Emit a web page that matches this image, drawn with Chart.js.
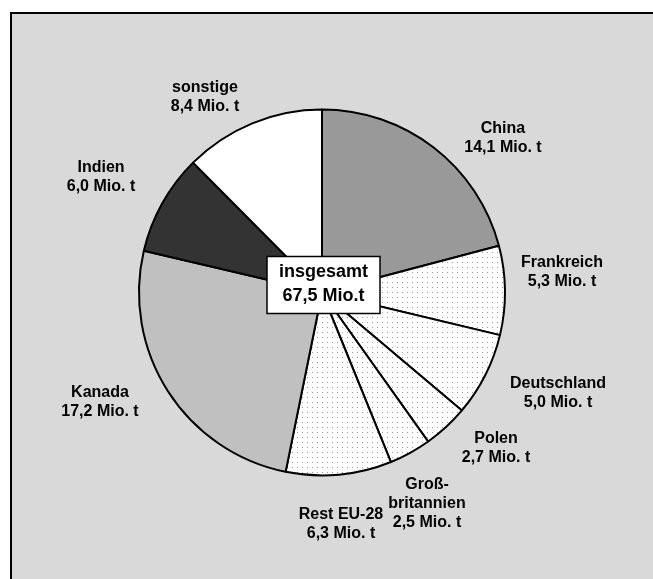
<!DOCTYPE html>
<html lang="de">
<head>
<meta charset="utf-8">
<title>Rapsproduktion</title>
<script src="https://cdn.jsdelivr.net/npm/chart.js@4/dist/chart.umd.min.js"></script>
<style>
  html, body { margin: 0; padding: 0; background: #fff; }
  canvas { display: block; }
</style>
</head>
<body>
<canvas id="pie" width="653" height="579"></canvas>
<script>
'use strict';

// ─── Data ─────────────────────────────────────────────────────────────────────
const countries = ['China', 'Frankreich', 'Deutschland', 'Polen', 'Großbritannien', 'Rest EU-28', 'Kanada', 'Indien', 'sonstige'];
const labelLines = [['China'], ['Frankreich'], ['Deutschland'], ['Polen'], ['Groß-', 'britannien'], ['Rest EU-28'], ['Kanada'], ['Indien'], ['sonstige']];
const volumes = [14.1, 5.3, 5.0, 2.7, 2.5, 6.3, 17.2, 6.0, 8.4];   // Mio. t
const totalText = ['insgesamt', '67,5 Mio.t'];

// label anchor offsets from the pie centre (x = text centre, y = first line)
const labelOffsets = [
  [181, -164], [240, -30], [236, 91], [174, 146], [105, 192],
  [19, 222], [-222, 100], [-221, -125], [-117, -205]
];

// ─── Fills ────────────────────────────────────────────────────────────────────
function dotPattern() {
  const tile = document.createElement('canvas');
  tile.width = 5; tile.height = 5;
  const t = tile.getContext('2d');
  t.fillStyle = '#ffffff';
  t.fillRect(0, 0, 5, 5);
  t.fillStyle = '#9a9a9a';
  t.fillRect(2, 2, 1, 1);
  return document.getElementById('pie').getContext('2d').createPattern(tile, 'repeat');
}
const dots = dotPattern();
const fills = ['#999999', dots, dots, dots, dots, dots, '#c0c0c0', '#333333', '#ffffff'];

const fmt = v => v.toFixed(1).replace('.', ',') + ' Mio. t';

// ─── Plugins ──────────────────────────────────────────────────────────────────
const framePlugin = {
  id: 'frame',
  beforeDraw(chart) {
    const ctx = chart.ctx;
    ctx.save();
    ctx.fillStyle = '#ffffff';
    ctx.fillRect(0, 0, chart.width, chart.height);
    ctx.fillStyle = '#d9d9d9';
    ctx.fillRect(10, 12, chart.width, chart.height);
    ctx.strokeStyle = '#000';
    ctx.lineWidth = 2;
    ctx.beginPath();
    ctx.moveTo(11, chart.height + 2);
    ctx.lineTo(11, 13);
    ctx.lineTo(chart.width + 2, 13);
    ctx.stroke();
    ctx.restore();
  }
};

const labelPlugin = {
  id: 'sliceLabels',
  afterDatasetsDraw(chart) {
    const ctx = chart.ctx;
    const arcs = chart.getDatasetMeta(0).data;
    const cx = arcs[0].x, cy = arcs[0].y;
    ctx.save();
    ctx.fillStyle = '#000';
    ctx.textAlign = 'center';
    ctx.textBaseline = 'middle';
    ctx.font = 'bold 16px "Liberation Sans", Arial, sans-serif';
    volumes.forEach((v, i) => {
      const lines = labelLines[i].concat([fmt(v)]);
      const [dx, dy] = labelOffsets[i];
      lines.forEach((txt, k) => ctx.fillText(txt, cx + dx, cy + dy + k * 19));
    });

    // total box in the middle
    const bw = 113, bh = 57;
    const bx = cx + 1.5 - bw / 2, by = cy - 7.5 - bh / 2;
    ctx.fillStyle = '#fff';
    ctx.fillRect(bx, by, bw, bh);
    ctx.strokeStyle = '#000';
    ctx.lineWidth = 1.5;
    ctx.strokeRect(bx, by, bw, bh);
    ctx.fillStyle = '#000';
    ctx.font = 'bold 18px "Liberation Sans", Arial, sans-serif';
    ctx.fillText(totalText[0], cx + 1.5, by + 16);
    ctx.fillText(totalText[1], cx + 1.5, by + 40);
    ctx.restore();
  }
};

// ─── Chart ────────────────────────────────────────────────────────────────────
new Chart(document.getElementById('pie'), {
  type: 'pie',
  data: {
    labels: countries,
    datasets: [{
      data: volumes,
      backgroundColor: fills,
      borderColor: '#000',
      borderWidth: 2,
      hoverOffset: 0,
    }]
  },
  options: {
    responsive: false,
    animation: false,
    events: [],
    layout: { padding: { left: 138, right: 147, top: 108, bottom: 102 } },
    plugins: {
      legend: { display: false },
      tooltip: { enabled: false },
    }
  },
  plugins: [framePlugin, labelPlugin]
});
</script>
</body>
</html>
